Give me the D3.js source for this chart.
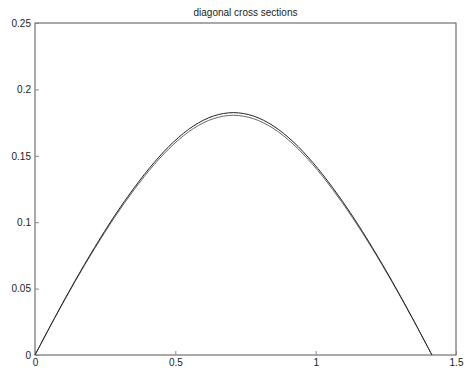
<html>
    <head>
        <title>diagonal cross sections</title>
        <style>
            body { margin: 0; background: #fff; }
            text { font-family: "Liberation Sans", Arial, sans-serif; font-size: 10px; fill: #222; }
        </style>
    </head>
    <body>
    </body>
    <script src='https://d3js.org/d3.v7.min.js'></script>
    <script>
        // distance along the diagonal (0 .. sqrt(2))
        var xs = [0, 0.0707, 0.1414, 0.2121, 0.2828, 0.3536, 0.4243, 0.4950, 0.5657, 0.6364, 0.7071,
                  0.7778, 0.8485, 0.9192, 0.9899, 1.0607, 1.1314, 1.2021, 1.2728, 1.3435, 1.4142]
        // two cross sections
        var upper = [0, 0.0283, 0.0554, 0.0809, 0.1046, 0.1260, 0.1449, 0.1607, 0.1726, 0.1800, 0.1825,
                     0.1800, 0.1726, 0.1607, 0.1449, 0.1260, 0.1046, 0.0809, 0.0554, 0.0283, 0]
        var lower = [0, 0.0280, 0.0548, 0.0800, 0.1034, 0.1246, 0.1433, 0.1589, 0.1707, 0.1780, 0.1805,
                     0.1780, 0.1707, 0.1589, 0.1433, 0.1246, 0.1034, 0.0800, 0.0548, 0.0280, 0]
        var xTicks = [0, 0.5, 1, 1.5]
        var yTicks = [0, 0.05, 0.1, 0.15, 0.2, 0.25]
        var title = 'diagonal cross sections'

        var width = 467
        var height = 370
        var padding = {left:35, right:11, top:23, bottom:15}

        var svg = d3.select('body')
            .append('svg')
            .attr('width', width)
            .attr('height', height)

        var xScale = d3.scaleLinear()
            .domain([0, 1.5])
            .range([padding.left, width - padding.right])
        var yScale = d3.scaleLinear()
            .domain([0, 0.25])
            .range([height - padding.bottom, padding.top])

        // box
        svg.append('rect')
            .attr('x', xScale(0))
            .attr('y', yScale(0.25))
            .attr('width', xScale(1.5) - xScale(0))
            .attr('height', yScale(0) - yScale(0.25))
            .attr('fill', 'none')
            .attr('stroke', '#555')
            .attr('stroke-width', 1)

        // axes with inward ticks
        var xAxis = d3.axisBottom(xScale)
            .tickValues(xTicks)
            .tickSize(-4)
            .tickPadding(4)
            .tickFormat(d3.format('~g'))
        var yAxis = d3.axisLeft(yScale)
            .tickValues(yTicks)
            .tickSize(-4)
            .tickPadding(4)
            .tickFormat(d3.format('~g'))

        svg.append('g')
            .attr('transform', 'translate(0,' + yScale(0) + ')')
            .call(xAxis)
        svg.append('g')
            .attr('transform', 'translate(' + xScale(0) + ',0)')
            .call(yAxis)
        svg.selectAll('.domain').remove()
        svg.selectAll('.tick line').attr('stroke', '#888')
        svg.selectAll('.tick text').attr('fill', '#222').attr('font-size', 10)

        // curves
        var line = d3.line()
            .x(function(d){ return xScale(d[0]) })
            .y(function(d){ return yScale(d[1]) })
            .curve(d3.curveCatmullRom)

        var series = [lower, upper]
        svg.selectAll('path.curve')
            .data(series)
            .enter()
            .append('path')
            .attr('class', 'curve')
            .attr('d', function(s){
                return line(xs.map(function(x, i){ return [x, s[i]] }))
            })
            .attr('fill', 'none')
            .attr('stroke', function(d, i){ return i == 0 ? '#666' : '#222' })
            .attr('stroke-width', 1)

        svg.append('text')
            .attr('x', (xScale(0) + xScale(1.5)) / 2)
            .attr('y', 16)
            .attr('text-anchor', 'middle')
            .text(title)
    </script>
</html>
